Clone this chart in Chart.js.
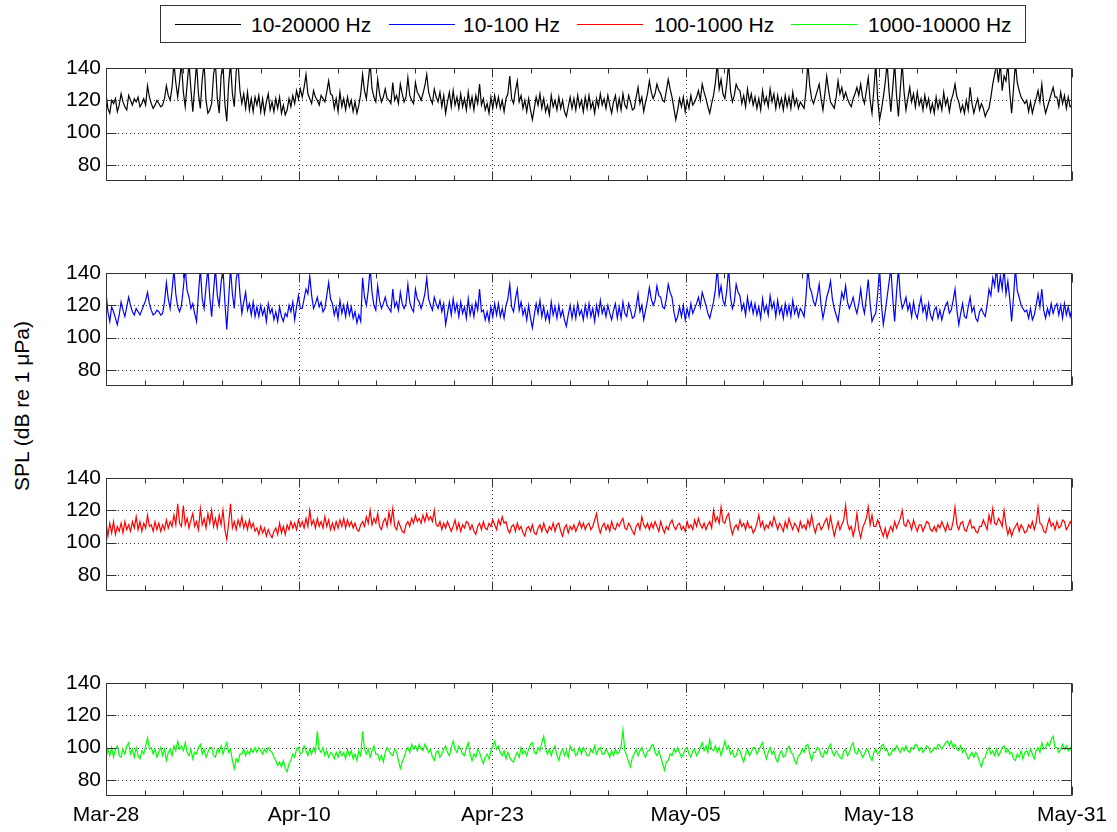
<!DOCTYPE html>
<html>
<head>
<meta charset="utf-8">
<script src="https://cdn.jsdelivr.net/npm/chart.js@4"></script>
<style>
  body { margin: 0; background: #fff; font-family: "Liberation Sans", Arial, sans-serif; }
  #page { position: relative; width: 1117px; height: 832px; overflow: hidden; }
  canvas { position: absolute; left: 0; }
  .legend { position: absolute; left: 160px; top: 5px; width: 866px; height: 38px; border: 1px solid #333; box-sizing: border-box; }
  .lg-line { position: absolute; top: 18px; height: 1px; width: 66px; }
  .lg-text { position: absolute; top: 7px; font-size: 21px; line-height: 23px; color: #000; white-space: nowrap; }
  .ytitle { position: absolute; left: 22px; top: 406px; transform: translate(-50%, -50%) rotate(-90deg); font-size: 21px; white-space: nowrap; color: #000; }
</style>
</head>
<body>
<div id="page">
  <div class="legend" id="legend"></div>
  <div class="ytitle">SPL (dB re 1 μPa)</div>
</div>
<script>
// time axis: 8 samples per day (3-hourly), 0 .. 64 days after Mar-28
const STEP_DAYS = 0.125;
const xTickDays = [0, 12.8, 25.6, 38.4, 51.2, 64];
const xTickLabels = ['Mar-28', 'Apr-10', 'Apr-23', 'May-05', 'May-18', 'May-31'];
const yTicks = [80, 100, 120, 140];
const seriesNames = ['10-20000 Hz', '10-100 Hz', '100-1000 Hz', '1000-10000 Hz'];
const seriesColors = ['#000000', '#0000ff', '#ff0000', '#00ff00'];

// 10-20000 Hz, one row per day
const spl20000 = [
  124, 115, 112, 120, 118, 121, 113, 117,
  124, 119, 116, 114, 123, 120, 117, 121,
  119, 122, 116, 118, 121, 117, 129, 122,
  118, 115, 117, 120, 118, 116, 117, 121,
  129, 123, 120, 128, 143, 131, 122, 132,
  143, 125, 116, 130, 143, 127, 113, 128,
  143, 124, 115, 133, 143, 120, 112, 114,
  118, 136, 143, 121, 112, 135, 143, 118,
  107, 130, 143, 124, 116, 138, 143, 126,
  118, 124, 115, 125, 114, 121, 113, 122,
  117, 123, 113, 121, 112, 119, 124, 114,
  119, 113, 121, 115, 122, 112, 117, 111,
  114, 121, 116, 123, 118, 126, 121, 127,
  122, 128, 136, 124, 121, 118, 126, 122,
  120, 117, 123, 121, 119, 125, 132, 124,
  123, 115, 121, 113, 125, 116, 121, 114,
  122, 116, 120, 113, 119, 112, 117, 124,
  136, 126, 121, 132, 143, 127, 122, 119,
  133, 124, 119, 122, 127, 121, 120, 118,
  131, 120, 123, 118, 130, 124, 119, 122,
  134, 123, 120, 118, 131, 125, 123, 120,
  124, 129, 136, 125, 121, 118, 127, 122,
  119, 125, 116, 123, 112, 119, 125, 116,
  126, 117, 122, 115, 124, 116, 121, 114,
  125, 116, 122, 114, 123, 118, 130, 117,
  121, 114, 118, 112, 122, 115, 123, 116,
  122, 115, 120, 113, 121, 124, 135, 121,
  118, 126, 132, 119, 123, 115, 120, 113,
  121, 114, 108, 115, 122, 117, 124, 115,
  121, 113, 117, 111, 123, 116, 120, 114,
  122, 115, 120, 113, 110, 116, 122, 115,
  121, 114, 123, 116, 120, 113, 122, 115,
  123, 115, 119, 112, 121, 116, 124, 117,
  121, 115, 123, 117, 112, 119, 123, 114,
  121, 114, 124, 117, 115, 123, 119, 114,
  115, 122, 128, 118, 122, 113, 119, 124,
  132, 125, 121, 124, 130, 126, 124, 120,
  119, 126, 133, 127, 122, 115, 108, 114,
  121, 116, 122, 113, 120, 115, 123, 117,
  119, 122, 126, 120, 130, 125, 121, 116,
  112, 118, 123, 131, 143, 127, 133, 124,
  121, 130, 143, 126, 119, 123, 130, 127,
  126, 118, 123, 116, 127, 119, 124, 117,
  122, 115, 121, 114, 126, 118, 122, 116,
  127, 119, 124, 115, 123, 116, 121, 114,
  123, 116, 122, 115, 125, 117, 121, 115,
  119, 117, 115, 126, 143, 129, 121, 118,
  122, 126, 130, 121, 114, 124, 135, 126,
  119, 117, 115, 122, 132, 124, 128, 121,
  125, 121, 118, 116, 121, 124, 128, 123,
  130, 122, 118, 126, 134, 120, 112, 127,
  143, 121, 108, 114, 122, 131, 143, 126,
  113, 128, 143, 123, 110, 127, 143, 125,
  114, 121, 128, 119, 124, 116, 125, 117,
  121, 114, 123, 116, 121, 113, 118, 112,
  122, 115, 120, 114, 125, 117, 121, 113,
  120, 124, 130, 122, 119, 113, 117, 112,
  120, 114, 128, 118, 112, 117, 121, 114,
  118, 115, 110, 113, 115, 122, 130, 136,
  143, 131, 143, 126, 135, 132, 143, 125,
  112, 127, 143, 131, 126, 122, 120, 118,
  120, 113, 119, 112, 117, 121, 126, 119,
  130, 118, 112, 116, 120, 124, 128, 122,
  122, 116, 125, 118, 123, 115, 122, 116,
  117
];
// 10-100 Hz
const spl100 = [
  128, 116, 110, 119, 116, 112, 108, 114,
  122, 117, 113, 119, 125, 120, 116, 114,
  118, 116, 114, 117, 120, 123, 128, 121,
  117, 114, 115, 117, 116, 114, 115, 122,
  134, 124, 118, 129, 142, 127, 119, 116,
  120, 131, 143, 129, 125, 118, 121, 115,
  110, 127, 143, 124, 118, 131, 143, 125,
  113, 129, 143, 126, 120, 134, 143, 122,
  105, 124, 143, 127, 118, 136, 143, 127,
  115, 122, 128, 117, 121, 114, 122, 113,
  119, 113, 120, 114, 118, 110, 121, 115,
  118, 111, 116, 110, 119, 113, 110, 115,
  113, 120, 116, 122, 111, 119, 126, 118,
  118, 124, 130, 127, 138, 126, 118, 121,
  125, 119, 122, 116, 118, 126, 134, 124,
  121, 114, 119, 112, 123, 115, 120, 113,
  121, 114, 119, 112, 116, 109, 114, 110,
  137, 125, 120, 129, 143, 128, 120, 117,
  132, 123, 118, 121, 125, 120, 118, 116,
  130, 119, 122, 117, 128, 121, 118, 121,
  133, 122, 118, 116, 130, 124, 122, 118,
  122, 127, 137, 124, 120, 117, 125, 121,
  118, 123, 116, 121, 108, 115, 122, 114,
  124, 116, 121, 113, 122, 115, 119, 112,
  124, 114, 120, 113, 122, 117, 130, 116,
  117, 111, 116, 110, 119, 113, 121, 114,
  121, 113, 118, 112, 120, 124, 133, 119,
  116, 124, 130, 117, 122, 114, 118, 111,
  120, 112, 106, 114, 121, 115, 123, 113,
  119, 111, 116, 110, 122, 114, 119, 112,
  120, 113, 117, 111, 107, 114, 120, 112,
  119, 112, 121, 114, 117, 111, 120, 113,
  121, 113, 118, 110, 120, 114, 123, 115,
  119, 113, 120, 115, 111, 117, 121, 112,
  119, 112, 122, 115, 113, 121, 117, 112,
  113, 119, 127, 116, 120, 111, 117, 123,
  131, 124, 120, 123, 132, 126, 125, 119,
  118, 124, 133, 128, 125, 116, 110, 113,
  119, 113, 120, 111, 118, 113, 121, 115,
  118, 121, 125, 119, 128, 124, 120, 115,
  112, 117, 122, 130, 143, 126, 132, 123,
  120, 129, 143, 125, 118, 122, 133, 128,
  126, 117, 121, 114, 125, 117, 122, 115,
  121, 114, 119, 112, 124, 116, 120, 114,
  126, 118, 122, 113, 123, 115, 119, 112,
  121, 114, 120, 113, 123, 115, 119, 113,
  118, 116, 113, 125, 143, 131, 128, 122,
  120, 126, 133, 120, 112, 118, 125, 129,
  135, 124, 118, 114, 110, 119, 128, 124,
  132, 122, 118, 121, 125, 119, 115, 121,
  130, 120, 115, 125, 136, 121, 110, 113,
  115, 127, 143, 120, 108, 116, 125, 134,
  143, 124, 110, 128, 143, 126, 118, 121,
  125, 117, 121, 113, 122, 115, 112, 119,
  125, 116, 120, 112, 121, 114, 111, 117,
  119, 112, 117, 111, 116, 120, 122, 115,
  117, 123, 130, 117, 108, 115, 121, 113,
  112, 119, 125, 116, 119, 112, 110, 116,
  118, 115, 113, 120, 130, 126, 137, 132,
  143, 128, 138, 130, 143, 127, 135, 124,
  110, 125, 143, 129, 125, 120, 118, 116,
  117, 112, 118, 111, 114, 120, 127, 119,
  130, 117, 112, 118, 114, 121, 115, 119,
  121, 114, 120, 112, 121, 114, 119, 113,
  118
];
// 100-1000 Hz
const spl1000 = [
  113, 104, 112, 106, 113, 105, 110, 107,
  112, 106, 113, 108, 111, 107, 113, 109,
  116, 108, 113, 107, 112, 109, 117, 110,
  111, 107, 113, 108, 112, 107, 111, 108,
  114, 109, 113, 110, 117, 111, 124, 112,
  110, 123, 111, 115, 109, 114, 118, 110,
  113, 108, 121, 111, 115, 109, 118, 112,
  120, 110, 115, 109, 117, 111, 120, 108,
  102, 112, 124, 109, 113, 108, 114, 110,
  116, 109, 113, 108, 114, 109, 112, 107,
  109, 105, 110, 106, 109, 104, 108, 105,
  103, 107, 109, 105, 112, 106, 110, 105,
  111, 108, 113, 109, 112, 108, 114, 110,
  113, 109, 115, 110, 120, 111, 114, 109,
  115, 110, 113, 109, 116, 110, 114, 108,
  112, 108, 113, 109, 114, 110, 115, 109,
  114, 110, 113, 109, 112, 108, 107, 111,
  113, 110, 116, 112, 120, 111, 115, 112,
  118, 110, 108, 113, 115, 110, 119, 112,
  121, 110, 108, 113, 110, 107, 106, 111,
  113, 110, 115, 112, 117, 113, 115, 112,
  117, 113, 118, 114, 116, 113, 120, 111,
  110, 113, 108, 112, 109, 113, 110, 107,
  110, 114, 108, 112, 107, 111, 109, 113,
  112, 108, 111, 107, 105, 110, 112, 108,
  113, 109, 108, 112, 110, 114, 111, 108,
  114, 111, 116, 112, 113, 108, 106, 110,
  111, 107, 112, 108, 110, 106, 104, 109,
  110, 107, 111, 106, 105, 109, 111, 107,
  112, 108, 106, 110, 108, 112, 107, 111,
  112, 107, 104, 109, 111, 106, 110, 108,
  111, 107, 110, 113, 109, 112, 108, 111,
  112, 108, 110, 114, 118, 110, 106, 110,
  112, 108, 111, 107, 113, 109, 108, 112,
  110, 113, 115, 109, 108, 112, 110, 107,
  105, 110, 112, 108, 116, 111, 109, 112,
  108, 112, 109, 113, 110, 107, 113, 109,
  106, 110, 108, 112, 114, 110, 108, 111,
  112, 108, 110, 107, 113, 109, 111, 108,
  114, 110, 115, 111, 109, 112, 108, 111,
  113, 109, 120, 113, 116, 112, 122, 113,
  112, 116, 118, 110, 105, 109, 111, 108,
  114, 110, 112, 108, 113, 109, 110, 106,
  108, 112, 117, 110, 113, 108, 111, 109,
  113, 110, 116, 112, 108, 112, 110, 107,
  113, 109, 115, 111, 108, 112, 110, 107,
  113, 109, 111, 108, 114, 110, 117, 110,
  106, 111, 112, 108, 110, 113, 115, 109,
  116, 110, 104, 109, 113, 108, 111, 114,
  123, 112, 108, 110, 104, 109, 118, 108,
  103, 109, 112, 115, 122, 111, 117, 110,
  110, 114, 111, 107, 104, 109, 103, 107,
  110, 107, 113, 109, 112, 115, 120, 111,
  110, 114, 112, 108, 114, 110, 107, 111,
  111, 107, 110, 113, 112, 108, 107, 110,
  107, 111, 109, 113, 110, 107, 112, 108,
  108, 113, 122, 111, 108, 112, 113, 108,
  107, 111, 114, 109, 110, 107, 106, 110,
  110, 114, 111, 108, 117, 112, 121, 112,
  111, 115, 113, 110, 120, 111, 105, 109,
  104, 108, 110, 112, 107, 111, 109, 106,
  107, 111, 109, 113, 108, 112, 122, 112,
  111, 107, 106, 111, 115, 110, 112, 108,
  113, 109, 110, 114, 113, 108, 110, 113,
  111
];
// 1000-10000 Hz
const spl10000 = [
   93,  99,  95, 100,  94,  99, 101,  95,
   94,  99,  96, 101, 103,  96,  99,  94,
  100,  95,  93,  98,  96, 101, 106,  99,
  100,  96,  99,  94,  97, 100,  95,  99,
   92,  97,  99,  95, 101,  98, 104,  99,
  101,  98, 103,  97,  95,  99,  93,  97,
   96, 100, 102,  96,  99,  94,  97, 100,
  100,  95,  94,  99,  97, 101,  96, 100,
  103,  97,  99,  92,  87,  93,  91,  96,
   96,  99,  95,  98,  96,  99,  97, 100,
   97, 100,  98,  96,  99,  97, 100,  98,
   97,  94,  92,  89,  91,  88,  92,  87,
   85,  90,  92,  96,  94,  99, 100,  96,
   97, 101,  98,  95,  99,  96, 100,  97,
  110,  99,  97, 100,  95,  98,  94,  97,
   96,  93,  97,  94,  98,  95,  97,  93,
   99,  95,  98,  93,  96,  92,  98,  95,
  110,  99,  96,  99,  94,  98, 101,  96,
   96,  92,  95,  91,  97, 100,  98,  96,
   95,  99,  97,  92,  87,  91,  94,  98,
  100,  97, 102,  99, 101,  98, 102,  99,
   98, 102, 100,  97,  99,  94,  92,  97,
   98,  94,  96,  99, 101,  97,  95, 100,
  104,  99,  97, 101,  99,  96,  95, 100,
  103,  96,  92,  96,  94,  99,  97,  93,
   90,  94,  96,  93,  98, 101, 104,  99,
  101,  97,  95,  98,  93,  97,  94,  92,
   91,  95,  97,  94, 100,  96,  98,  95,
   99, 102, 103,  97,  96, 100,  98, 103,
  107,  99,  96,  99,  95,  99, 101,  95,
   92,  97,  99,  95,  98,  94, 101,  98,
   99,  95,  97, 100,  96, 100,  98,  95,
   95,  99,  97, 101,  96,  99, 100,  96,
   96,  99,  97,  94,  98,  95,  99,  96,
   97, 101, 111,  98,  95,  91,  88,  94,
   96,  99,  95,  98, 100,  96,  94,  98,
   98, 101, 102,  97,  95,  98,  94,  90,
   86,  91,  92,  96,  95,  99,  97, 100,
   97,  94,  96,  99, 100,  96,  94,  98,
   99,  95,  97, 100, 103,  98, 101,  97,
  105,  99,  98, 101,  97, 100,  95,  99,
  104,  99, 101,  96,  98,  94,  95,  99,
   98,  94,  91,  96,  99,  95,  97, 100,
  100,  96,  98, 101, 103,  97,  93,  97,
  100,  96,  98,  93,  91,  96,  98,  94,
   95,  99, 101,  97,  96,  92,  90,  95,
   96,  99,  97, 101, 102,  96,  92,  97,
   97, 100,  99,  95,  94,  98,  96, 100,
  102,  97,  95,  98,  96,  94,  93,  98,
   99,  95,  97, 101, 103,  97,  96,  99,
   97,  94,  96,  99,  98,  94,  92,  97,
   99,  96,  97, 101, 102,  98,  99,  95,
   96,  99,  98, 101,  99,  97, 100,  98,
  101,  98,  97, 100,  99, 102, 101,  98,
  100,  97,  99, 101, 100,  97,  98, 100,
   99, 102, 101,  99, 101, 103, 104, 101,
  104, 100, 102,  99,  98, 101,  97,  99,
   96,  93,  95,  97,  94,  97,  95,  91,
   88,  93,  94,  98, 100,  96,  98,  95,
   99,  95,  97, 100, 101,  97,  99,  96,
   97,  93,  92,  96,  94,  98,  93,  97,
   98,  95,  99,  96,  93,  98, 100,  97,
  103,  99, 100, 103, 101, 105, 107, 100,
  100,  97,  99, 102,  99, 101,  98, 100,
   97
];

const seriesValues = [spl20000, spl100, spl1000, spl10000];
const panelTops = [68, 273, 478, 683];
const PANEL_H = 113;
const PAD = 20;

// MATLAB-like box, inward ticks and dotted grid
const matlabAxes = {
  id: 'matlabAxes',
  beforeDatasetsDraw(chart) {
    const { ctx, chartArea: a, scales: { x, y } } = chart;
    ctx.save();
    ctx.strokeStyle = '#333';
    ctx.lineWidth = 1;
    ctx.setLineDash([1, 3]);
    xTickDays.slice(1, -1).forEach(d => {
      const px = Math.round(x.getPixelForValue(d)) + 0.5;
      ctx.beginPath(); ctx.moveTo(px, a.top); ctx.lineTo(px, a.bottom); ctx.stroke();
    });
    yTicks.slice(0, -1).forEach(v => {
      const py = Math.round(y.getPixelForValue(v)) + 0.5;
      ctx.beginPath(); ctx.moveTo(a.left, py); ctx.lineTo(a.right, py); ctx.stroke();
    });
    ctx.restore();
  },
  afterDraw(chart) {
    const { ctx, chartArea: a, scales: { x, y } } = chart;
    const L = Math.round(a.left) + 0.5, R = Math.round(a.right) - 0.5;
    const T = Math.round(a.top) + 0.5, B = Math.round(a.bottom) - 0.5;
    ctx.save();
    ctx.strokeStyle = '#333';
    ctx.lineWidth = 1;
    ctx.beginPath();
    ctx.rect(L, T, R - L, B - T);
    // x ticks: 5 subdivisions per major interval
    for (let i = 0; i <= 25; i++) {
      const px = Math.round(x.getPixelForValue(i * 2.56)) + 0.5;
      const len = i % 5 === 0 ? 9 : 5;
      ctx.moveTo(px, B); ctx.lineTo(px, B - len);
      ctx.moveTo(px, T); ctx.lineTo(px, T + len);
    }
    yTicks.forEach(v => {
      const py = Math.round(y.getPixelForValue(v)) + 0.5;
      ctx.moveTo(L, py); ctx.lineTo(L + 10, py);
      ctx.moveTo(R, py); ctx.lineTo(R - 10, py);
    });
    ctx.stroke();
    ctx.restore();
  }
};

function makePanel(i) {
  const last = i === 3;
  const canvas = document.createElement('canvas');
  const top = panelTops[i] - PAD;
  const h = last ? 832 - top : PANEL_H + 2 * PAD;
  canvas.width = 1117;
  canvas.height = h;
  canvas.style.top = top + 'px';
  document.getElementById('page').appendChild(canvas);

  const vals = seriesValues[i];
  new Chart(canvas.getContext('2d'), {
    type: 'line',
    data: {
      datasets: [{
        label: seriesNames[i],
        data: vals.map((v, k) => ({ x: k * STEP_DAYS, y: v })),
        borderColor: seriesColors[i],
        borderWidth: 1.2,
        pointRadius: 0,
        tension: 0,
        clip: 0
      }]
    },
    options: {
      responsive: false,
      animation: false,
      events: [],
      layout: { padding: { left: 0, right: 45, top: PAD, bottom: last ? 0 : PAD } },
      scales: {
        x: {
          type: 'linear',
          min: 0,
          max: 64,
          afterBuildTicks: s => { s.ticks = xTickDays.map(v => ({ value: v })); },
          afterFit: s => { s.height = last ? 36 : 0; },
          grid: { display: false, drawTicks: false },
          border: { display: false },
          ticks: {
            display: last,
            autoSkip: false,
            maxRotation: 0,
            padding: 7,
            color: '#000',
            font: { family: '"Liberation Sans", Arial, sans-serif', size: 21 },
            callback: (v, idx) => xTickLabels[idx]
          }
        },
        y: {
          min: 70,
          max: 140,
          afterBuildTicks: s => { s.ticks = yTicks.map(v => ({ value: v })); },
          afterFit: s => { s.width = 106; },
          grid: { display: false, drawTicks: false },
          border: { display: false },
          ticks: {
            padding: 5,
            color: '#000',
            font: { family: '"Liberation Sans", Arial, sans-serif', size: 21 }
          }
        }
      },
      plugins: {
        legend: { display: false },
        tooltip: { enabled: false }
      }
    },
    plugins: [matlabAxes]
  });
}

function buildLegend() {
  const box = document.getElementById('legend');
  const lineX = [14, 228, 416, 630];
  const textX = [90, 302, 493, 707];
  seriesNames.forEach((name, i) => {
    const ln = document.createElement('div');
    ln.className = 'lg-line';
    ln.style.left = lineX[i] + 'px';
    ln.style.background = seriesColors[i];
    box.appendChild(ln);
    const tx = document.createElement('div');
    tx.className = 'lg-text';
    tx.style.left = textX[i] + 'px';
    tx.textContent = name;
    box.appendChild(tx);
  });
}

buildLegend();
for (let i = 0; i < 4; i++) makePanel(i);
</script>
</body>
</html>
